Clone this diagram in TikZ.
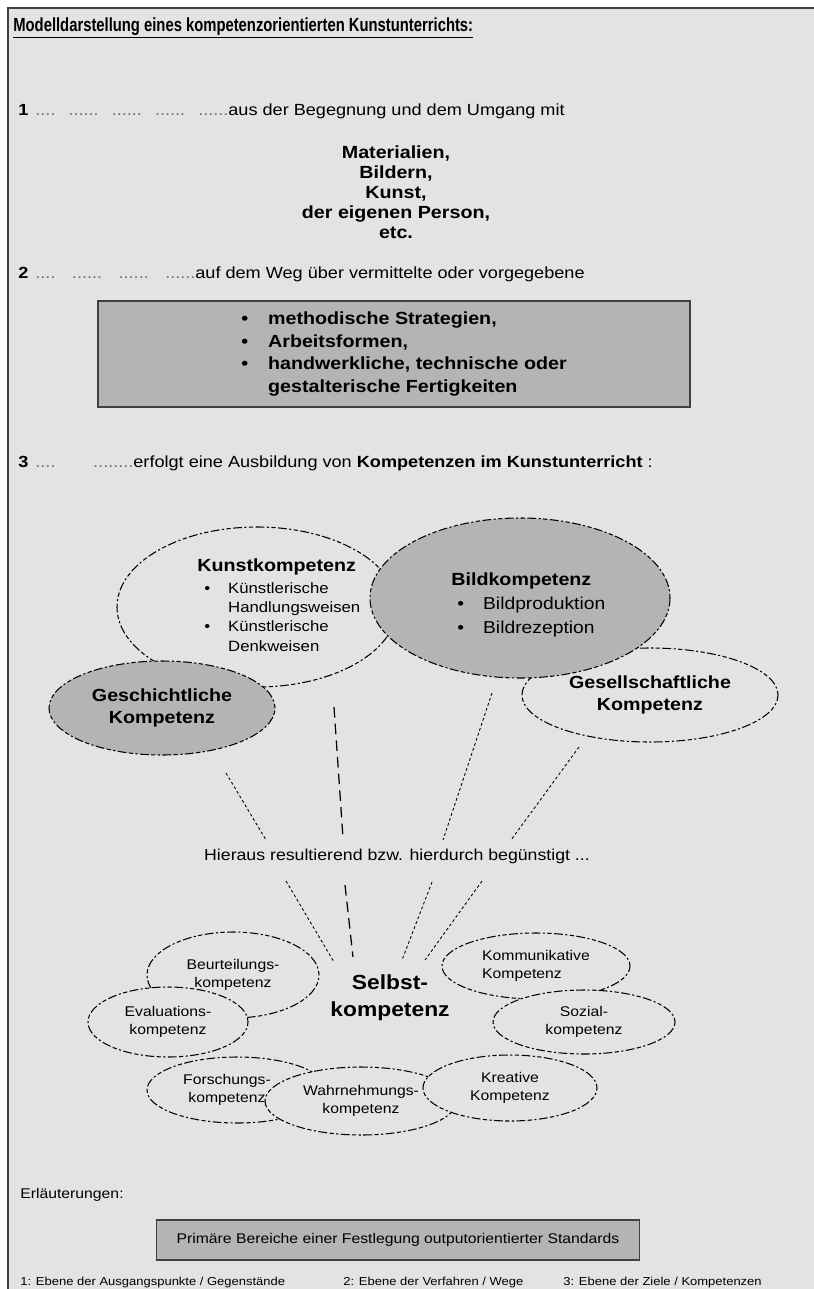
\documentclass[tikz,border=0pt]{standalone}
\usepackage{fontspec}
\setmainfont{Liberation Sans}[FakeStretch=1.12]
\newfontfamily\titlefont{Liberation Sans}[FakeStretch=0.78]
\usepackage{tikz}
\usetikzlibrary{positioning, shapes.geometric}
\definecolor{paper}{RGB}{227,227,227}
\definecolor{shade}{RGB}{180,180,180}
\definecolor{rim}{RGB}{64,64,64}
\definecolor{dotgrey}{RGB}{110,110,110}

\begin{document}
\begin{tikzpicture}[x=0.2mm, y=-0.2mm,
    plain/.style={anchor=west, inner sep=0pt, font=\fontsize{9.2}{11}\selectfont},
    oval/.style={ellipse, draw=black, line width=0.6pt, dash pattern=on 2.4pt off 1.4pt on 1.2pt off 1.4pt on 5pt off 1.4pt, fill=paper, inner sep=0pt, align=center},
    smalloval/.style={oval, font=\fontsize{8}{10.5}\selectfont},
    shadebox/.style={draw=rim, line width=0.9pt, fill=shade, inner sep=0pt},
    ray/.style={line width=0.5pt, dash pattern=on 1.6pt off 1.4pt},
    longray/.style={line width=0.7pt, dash pattern=on 6pt off 3.5pt}
  ]
  \useasboundingbox (0,0) rectangle (814,1289);
  \fill[white] (0,0) rectangle (814,1289);
  \fill[paper] (8,8) rectangle (814,1289);
  \draw[rim, line width=0.45mm] (8,1289) -- (8,8) -- (814,8);

  \node[plain, font=\titlefont\fontsize{10.8}{13}\selectfont\bfseries] (titel) at (13,28) {\underline{Modelldarstellung eines kompetenzorientierten Kunstunterrichts:}};

  % 1: Ausgangspunkte
  \node[plain] (eins) at (18,111) {\textbf{1}\hspace{1.4mm}\makebox[38.6mm][s]{\color{dotgrey}....\hfill......\hfill......\hfill......\hfill......}aus der Begegnung und dem Umgang mit};
  \node[font=\fontsize{10}{11.4}\selectfont\bfseries, align=center, inner sep=0pt] (gegenstand) at (396,192) {Materialien,\\Bildern,\\Kunst,\\der eigenen Person,\\etc.};

  % 2: Verfahren
  \node[plain] (zwei) at (18,274) {\textbf{2}\hspace{1.4mm}\makebox[32mm][s]{\color{dotgrey}....\hfill......\hfill......\hfill......}auf dem Weg über vermittelte oder vorgegebene};
  \node[shadebox, minimum width=118.4mm, minimum height=21.2mm, font=\fontsize{10}{13}\selectfont\bfseries] (wege) at (394,354) {\hspace{4mm}\begin{tabular}{@{}l@{\hspace{4mm}}l@{}}
      \textbullet & methodische Strategien,\\
      \textbullet & Arbeitsformen,\\
      \textbullet & handwerkliche, technische oder\\
                  & gestalterische Fertigkeiten
    \end{tabular}};

  % 3: Ziele
  \node[plain] (drei) at (18,463) {\textbf{3}\hspace{1.4mm}\makebox[19.6mm][s]{\color{dotgrey}....\hfill........}erfolgt eine Ausbildung von \textbf{Kompetenzen im Kunstunterricht} :};

  \node[oval, minimum width=56mm, minimum height=32mm] (kunst) at (257,607) {};
  \node[oval, minimum width=51.2mm, minimum height=18.8mm, font=\fontsize{10}{13}\selectfont\bfseries] (gesellschaft) at (650,695) {Gesellschaftliche\\Kompetenz};
  \node[oval, fill=shade, minimum width=60mm, minimum height=32mm] (bild) at (520,598) {};
  \node[oval, fill=shade, minimum width=45.2mm, minimum height=18.8mm, font=\fontsize{10}{13}\selectfont\bfseries] (geschichte) at (162,708) {Geschichtliche\\Kompetenz};

  \node[anchor=north west, inner sep=0pt, font=\fontsize{8.5}{11}\selectfont] (kunsttxt) at (197,558) {\begin{tabular}{@{\hspace{1.4mm}}l@{\hspace{3.6mm}}l@{}}
      \multicolumn{2}{@{}l@{}}{\fontsize{10}{12}\selectfont\bfseries Kunstkompetenz}\\[0.4mm]
      \textbullet & Künstlerische\\
                  & Handlungsweisen\\
      \textbullet & Künstlerische\\
                  & Denkweisen
    \end{tabular}};
  \node[anchor=north west, inner sep=0pt, font=\fontsize{9.8}{13.7}\selectfont] (bildtxt) at (451,568) {\begin{tabular}{@{\hspace{1.2mm}}l@{\hspace{3.8mm}}l@{}}
      \multicolumn{2}{@{}l@{}}{\fontsize{10}{12}\selectfont\bfseries Bildkompetenz}\\
      \textbullet & Bildproduktion\\
      \textbullet & Bildrezeption
    \end{tabular}};

  % Uebergang
  \node[inner sep=0pt, font=\fontsize{9}{11}\selectfont] (hieraus) at (397,856) {Hieraus resultierend bzw. hierdurch begünstigt ...};
  \node[inner sep=0pt, font=\fontsize{11.6}{15.4}\selectfont\bfseries, align=center] (selbst) at (390,998) {Selbst-\\kompetenz};

  \coordinate (o1) at (226,773);  \coordinate (u1) at (266,840);
  \coordinate (o2) at (334,707);  \coordinate (u2) at (343,838);
  \coordinate (o3) at (492,693);  \coordinate (u3) at (443,840);
  \coordinate (o4) at (579,747);  \coordinate (u4) at (511,840);
  \coordinate (s1) at (286,881);  \coordinate (t1) at (334,962);
  \coordinate (s2) at (345,885);  \coordinate (t2) at (353,957);
  \coordinate (s3) at (432,882);  \coordinate (t3) at (402,960);
  \coordinate (s4) at (482,881);  \coordinate (t4) at (425,960);
  \draw[ray] (o1) -- (u1);
  \draw[longray] (o2) -- (u2);
  \draw[ray] (o3) -- (u3);
  \draw[ray] (o4) -- (u4);
  \draw[ray] (s1) -- (t1);
  \draw[longray] (s2) -- (t2);
  \draw[ray] (s3) -- (t3);
  \draw[ray] (s4) -- (t4);

  \node[smalloval, minimum width=34.4mm, minimum height=17.2mm] (beurteilung) at (233,975) {Beurteilungs-\\kompetenz};
  \node[smalloval, minimum width=36mm, minimum height=13.2mm] (forschung) at (237,1090) {\hspace{-4mm}Forschungs-\\\hspace{-4mm}kompetenz};
  \node[smalloval, minimum width=32mm, minimum height=14mm] (evaluation) at (168,1022) {Evaluations-\\kompetenz};
  \node[smalloval, minimum width=38.4mm, minimum height=13.6mm] (wahrnehmung) at (361,1101) {Wahrnehmungs-\\kompetenz};
  \node[smalloval, minimum width=34.8mm, minimum height=13.2mm] (kreativ) at (510,1088) {Kreative\\Kompetenz};
  \node[smalloval, minimum width=37.6mm, minimum height=13.2mm, align=left] (kommunikativ) at (536,966) {Kommunikative\\Kompetenz};
  \node[smalloval, minimum width=36.4mm, minimum height=12.8mm] (sozial) at (584,1022) {Sozial-\\kompetenz};

  % Legende
  \node[plain, font=\fontsize{8}{10}\selectfont] (erlaeuterung) at (20,1195) {Erläuterungen:};
  \node[shadebox, minimum width=96.6mm, minimum height=8mm, font=\fontsize{8}{10}\selectfont] (standards) at (398,1240) {Primäre Bereiche einer Festlegung outputorientierter Standards};
  \node[plain, font=\fontsize{6.6}{8}\selectfont] (ebene1) at (20,1282) {1: Ebene der Ausgangspunkte / Gegenstände};
  \node[plain, font=\fontsize{6.6}{8}\selectfont] (ebene2) at (343,1282) {2: Ebene der Verfahren / Wege};
  \node[plain, font=\fontsize{6.6}{8}\selectfont] (ebene3) at (563,1282) {3: Ebene der Ziele / Kompetenzen};
\end{tikzpicture}
\end{document}
